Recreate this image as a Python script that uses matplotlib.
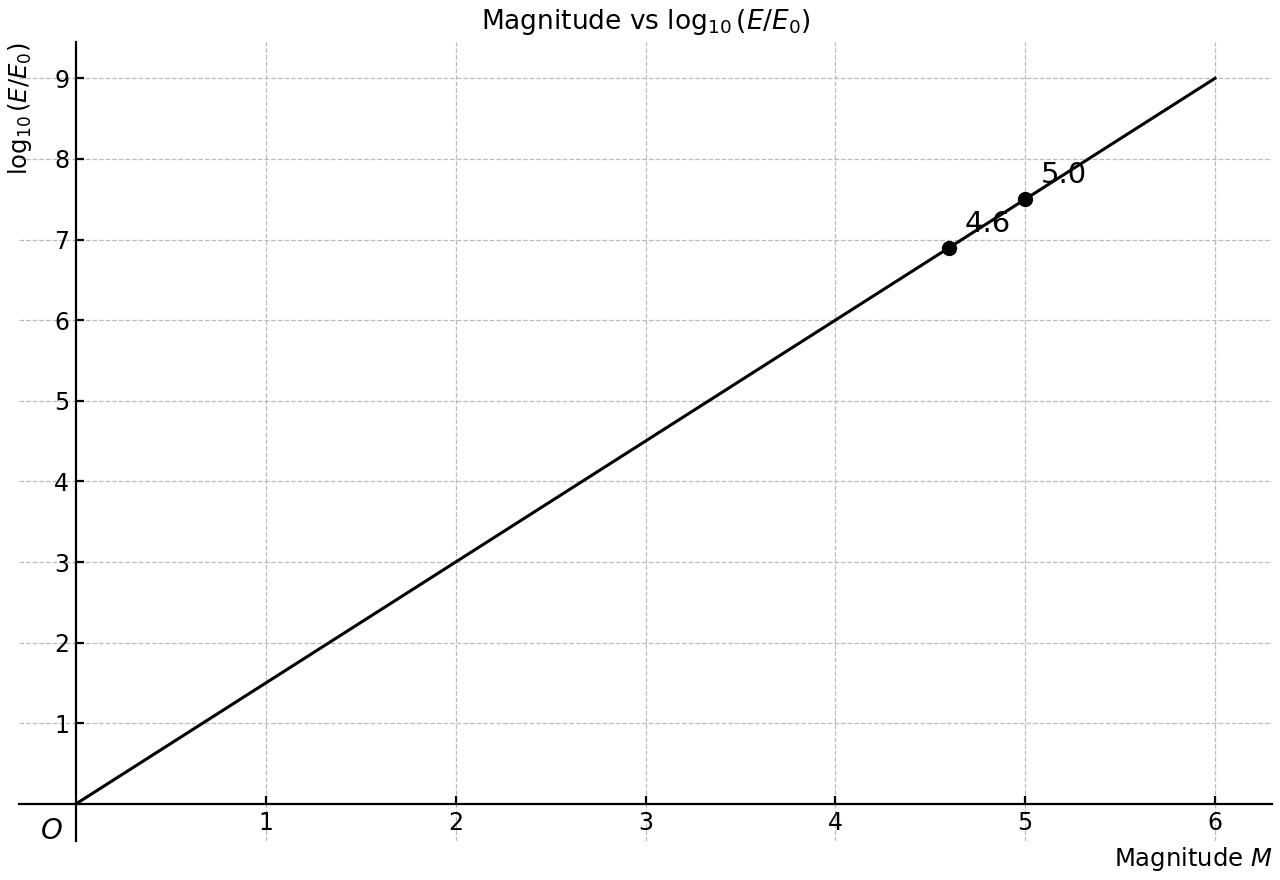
import matplotlib
matplotlib.use("Agg")
import matplotlib.pyplot as plt

line_M = [0, 6]
line_logE = [0, 9]
pt_M = [4.6, 5.0]
pt_logE = [6.9, 7.5]
pt_labels = ["4.6", "5.0"]
xticks = [1, 2, 3, 4, 5, 6]
yticks = [1, 2, 3, 4, 5, 6, 7, 8, 9]

fig = plt.figure(figsize=(12.8, 8.8), dpi=100)
ax = fig.add_axes([19/1280, 1-841/880, (1272-19)/1280, (841-42)/880])

ax.plot(line_M, line_logE, color="black", lw=2.2, zorder=3)
ax.plot(pt_M, pt_logE, "o", color="black", ms=10, zorder=4)
for x, y, t in zip(pt_M, pt_logE, pt_labels):
    ax.annotate(t, (x, y), xytext=(11, 7), textcoords="offset points",
                fontsize=21, ha="left", va="bottom")

ax.set_xlim(-0.3, 6.3)
ax.set_ylim(-0.46, 9.45)
ax.spines["left"].set_position(("data", 0))
ax.spines["bottom"].set_position(("data", 0))
ax.spines["right"].set_visible(False)
ax.spines["top"].set_visible(False)
for s in ("left", "bottom"):
    ax.spines[s].set_linewidth(1.6)
ax.set_xticks(xticks)
ax.set_yticks(yticks)
ax.tick_params(direction="in", length=6, width=1.6, labelsize=17, pad=5)
ax.grid(True, linestyle="--", color="#bbbbbb", lw=0.9)

ax.text(-0.13, -0.33, "$O$", fontsize=20, ha="center", va="center")
ax.set_xlabel("Magnitude $M$", loc="right", fontsize=17.5, labelpad=7.5)
ax.set_ylabel(r"$\log_{10}(E/E_0)$", loc="top", fontsize=17.5, labelpad=14)
ax.set_title(r"Magnitude vs $\log_{10}(E/E_0)$", fontsize=19, pad=9.5)

fig.savefig("out.png", dpi=100)
